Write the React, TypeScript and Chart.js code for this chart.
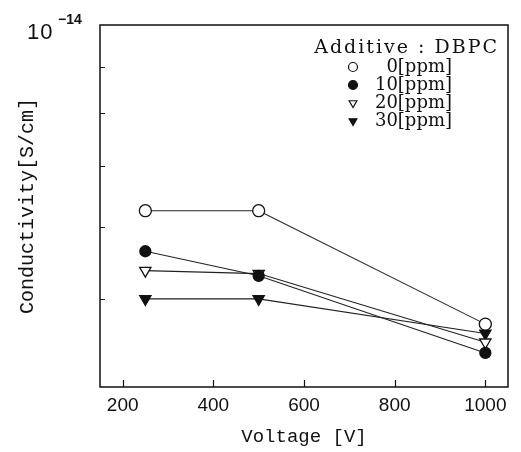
import React, { useEffect, useRef } from "react";
import { Chart, registerables } from "chart.js";

Chart.register(...registerables);

// ---- data ----
const voltages = [250, 500, 1000];
const cond0ppm = [6.25e-15, 6.25e-15, 4.69e-15];
const cond10ppm = [5.64e-15, 5.3e-15, 4.36e-15];
const cond20ppm = [5.37e-15, 5.33e-15, 4.48e-15];
const cond30ppm = [5.0e-15, 5.0e-15, 4.58e-15];
const seriesLabels = ["0[ppm]", "10[ppm]", "20[ppm]", "30[ppm]"];
const legendTitle = "Additive : DBPC";
const xTickValues = [200, 400, 600, 800, 1000];
const yTickValues = [5e-15, 6e-15, 7e-15, 8e-15, 9e-15];
const xTitle = "Voltage [V]";
const yTitle = "Conductivity[S/cm]";
const yTopLabelBase = "10";
const yTopLabelExp = "\u221214";
const xMin = 150;
const xMax = 1050;
const yMin = 4e-15;
const yMax = 1e-14;

type MarkerKind = "circle" | "triangleDown";
const markerKinds: MarkerKind[] = ["circle", "circle", "triangleDown", "triangleDown"];
const markerFilled = [false, true, false, true];

function drawMarker(
  ctx: CanvasRenderingContext2D,
  kind: MarkerKind,
  filled: boolean,
  x: number,
  y: number,
  r: number
) {
  ctx.save();
  ctx.beginPath();
  if (kind === "circle") {
    ctx.arc(x, y, r, 0, Math.PI * 2);
  } else {
    const s = Math.sin(Math.PI / 3) * r;
    ctx.moveTo(x, y + r);
    ctx.lineTo(x - s, y - r / 2);
    ctx.lineTo(x + s, y - r / 2);
    ctx.closePath();
  }
  ctx.fillStyle = filled ? "#111" : "#fff";
  ctx.fill();
  ctx.lineWidth = 1.2;
  ctx.strokeStyle = "#111";
  ctx.stroke();
  ctx.restore();
}

const framePlugin = {
  id: "framePlugin",
  afterDraw(chart: any) {
    const ctx: CanvasRenderingContext2D = chart.ctx;
    const { left, right, top, bottom } = chart.chartArea;
    const xs = chart.scales.x;
    const ys = chart.scales.y;
    ctx.save();
    ctx.strokeStyle = "#111";
    ctx.lineWidth = 1.5;
    ctx.strokeRect(left, top, right - left, bottom - top);
    ctx.lineWidth = 1.2;
    ctx.beginPath();
    for (const v of xTickValues) {
      const px = Math.round(xs.getPixelForValue(v)) + 0.5;
      ctx.moveTo(px, bottom);
      ctx.lineTo(px, bottom - 7);
    }
    for (const v of yTickValues) {
      const py = Math.round(ys.getPixelForValue(v)) + 0.5;
      ctx.moveTo(left, py);
      ctx.lineTo(left + 5, py);
    }
    ctx.stroke();

    // top-left decade label
    ctx.fillStyle = "#111";
    ctx.textBaseline = "alphabetic";
    ctx.textAlign = "left";
    ctx.font = "22px 'Liberation Sans', Arial, sans-serif";
    (ctx as any).letterSpacing = "1px";
    ctx.fillText(yTopLabelBase, 27, 39);
    (ctx as any).letterSpacing = "0px";
    ctx.font = "bold 14px 'Liberation Sans', Arial, sans-serif";
    ctx.fillText(yTopLabelExp, 58, 24);

    // legend
    ctx.font = "19px 'DejaVu Serif', serif";
    ctx.textAlign = "right";
    ctx.textBaseline = "middle";
    (ctx as any).letterSpacing = "2px";
    ctx.fillText(legendTitle, 499, 48);
    (ctx as any).letterSpacing = "0px";
    ctx.font = "18px 'DejaVu Serif', serif";
    const rowYs = [67, 85, 103, 121];
    seriesLabels.forEach((lab, i) => {
      const y = rowYs[i];
      ctx.fillStyle = "#111";
      ctx.fillText(lab, 452, y);
      drawMarker(ctx, markerKinds[i], markerFilled[i], 353, y, 4.5);
    });
    ctx.restore();
  },
};

export default function App() {
  const canvasRef = useRef<HTMLCanvasElement | null>(null);

  useEffect(() => {
    if (!canvasRef.current) return;
    const series = [cond0ppm, cond10ppm, cond20ppm, cond30ppm];
    const datasets = series.map((vals, i) => ({
      label: seriesLabels[i],
      data: voltages.map((v, j) => ({ x: v, y: vals[j] })),
      borderColor: "#222",
      borderWidth: 1.1,
      pointStyle: markerKinds[i] === "circle" ? "circle" : "triangle",
      rotation: markerKinds[i] === "circle" ? 0 : 180,
      pointRotation: markerKinds[i] === "circle" ? 0 : 180,
      pointRadius: markerKinds[i] === "circle" ? (markerFilled[i] ? 5.5 : 6) : 6.5,
      pointBackgroundColor: markerFilled[i] ? "#111" : "#fff",
      pointBorderColor: "#111",
      pointBorderWidth: 1.3,
      fill: false,
      tension: 0,
    }));

    const chart = new Chart(canvasRef.current, {
      type: "line",
      data: { datasets },
      plugins: [framePlugin],
      options: {
        responsive: false,
        animation: false,
        devicePixelRatio: 1,
        layout: { padding: { top: 25, right: 13, left: 0, bottom: 0 } },
        plugins: {
          legend: { display: false },
          tooltip: { enabled: false },
        },
        scales: {
          x: {
            type: "linear",
            min: xMin,
            max: xMax,
            afterBuildTicks: (axis: any) => {
              axis.ticks = xTickValues.map((v) => ({ value: v }));
            },
            afterFit: (axis: any) => {
              axis.height = 65;
            },
            grid: { display: false, drawTicks: false },
            border: { display: false },
            ticks: {
              padding: 7,
              color: "#111",
              font: { family: "'Liberation Sans', Arial, sans-serif", size: 19 },
              callback: (v: any) => String(v),
            },
            title: {
              display: true,
              text: xTitle,
              color: "#111",
              font: { family: "'Liberation Mono', 'DejaVu Sans Mono', monospace", size: 19 },
              padding: { top: 0, bottom: 4 },
            },
          },
          y: {
            type: "logarithmic",
            min: yMin,
            max: yMax,
            afterFit: (axis: any) => {
              axis.width = 100;
            },
            grid: { display: false, drawTicks: false },
            border: { display: false },
            ticks: { display: false },
            title: {
              display: true,
              text: yTitle,
              color: "#111",
              font: { family: "'Liberation Mono', 'DejaVu Sans Mono', monospace", size: 20 },
              padding: { top: 16, bottom: 0 },
            },
          },
        },
      } as any,
    });
    return () => chart.destroy();
  }, []);

  return (
    <div style={{ position: "fixed", left: 0, top: 0, width: 521, height: 452, background: "#fff" }}>
      <canvas ref={canvasRef} width={521} height={452} style={{ width: 521, height: 452, display: "block" }} />
    </div>
  );
}
